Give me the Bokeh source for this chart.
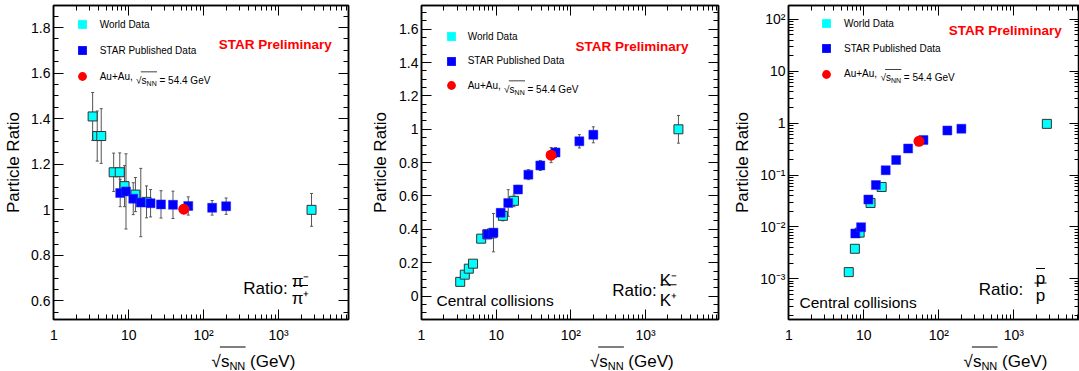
import math
from bokeh.plotting import figure
from bokeh.layouts import row, column
from bokeh.models import (ColumnDataSource, Whisker, TeeHead, Legend, LegendItem, Label,
                          LinearAxis, LogAxis, SingleIntervalTicker, FixedTicker,
                          CustomJSTickFormatter, BoxAnnotation, Range1d)
from bokeh.embed import file_html
from bokeh.resources import INLINE

# ---------------- data ----------------
# Panel 1 : pi-/pi+
pi_world_x = [3.3, 3.8, 4.3, 6.3, 7.6, 8.8, 12.3, 17.3, 2760]
pi_world_y = [1.41, 1.324, 1.324, 1.165, 1.165, 1.104, 1.067, 1.035, 1.0]
pi_world_err = [0.105, 0.11, 0.12, 0.084, 0.085, 0.09, 0.075, 0.07, 0.072]
pi_star_x = [7.7, 9.2, 11.5, 14.5, 19.6, 27, 39, 62.4, 130, 200]
pi_star_y = [1.074, 1.081, 1.049, 1.032, 1.029, 1.024, 1.022, 1.017, 1.009, 1.016]
pi_star_err = [0.06, 0.165, 0.07, 0.15, 0.06, 0.06, 0.06, 0.04, 0.032, 0.036]
pi_new_x = [54.4]
pi_new_y = [1.003]
pi_new_err = [0.01]

# Panel 2 : K-/K+
k_world_x = [3.3, 3.8, 4.3, 4.9, 6.3, 7.6, 8.8, 12.3, 17.3, 2760]
k_world_y = [0.085, 0.128, 0.164, 0.194, 0.344, 0.37, 0.376, 0.481, 0.571, 1.0]
k_world_err = [0.01, 0.01, 0.01, 0.012, 0.015, 0.02, 0.02, 0.03, 0.035, 0.083]
k_star_x = [7.7, 9.2, 11.5, 14.5, 19.6, 27, 39, 62.4, 130, 200]
k_star_y = [0.37, 0.38, 0.499, 0.558, 0.639, 0.728, 0.783, 0.861, 0.928, 0.967]
k_star_err = [0.02, 0.115, 0.02, 0.08, 0.025, 0.03, 0.03, 0.03, 0.04, 0.048]
k_new_x = [54.4]
k_new_y = [0.845]
k_new_err = [0.045]

# Panel 3 : pbar/p
p_world_x = [6.3, 7.6, 8.8, 12.3, 17.3, 2760]
p_world_y = [1.35e-3, 3.8e-3, 7.8e-3, 0.029, 0.059, 0.97]
p_world_err = [0.15e-3, 0.4e-3, 1.5e-3, 3e-3, 5e-3, 0.07]
p_star_x = [7.7, 9.2, 11.5, 14.5, 19.6, 27, 39, 62.4, 130, 200]
p_star_y = [7.5e-3, 9.9e-3, 0.0338, 0.0643, 0.124, 0.195, 0.325, 0.475, 0.723, 0.78]
p_star_err = [0.5e-3, 1.5e-3, 2e-3, 4e-3, 6e-3, 8e-3, 0.012, 0.025, 0.06, 0.07]
p_new_x = [54.4]
p_new_y = [0.447]
p_new_err = [0.02]

legend_labels = ["World Data", "STAR Published Data", "Au+Au,"]
x_major = [1, 10, 100, 1000]
y3_major = [1e-3, 1e-2, 1e-1, 1, 10, 100]

# ---------------- style / layout ----------------
FONT = "Liberation Sans"
CYAN, BLUE, RED, ERR = "#00FFFF", "#0000FF", "#FF0000", "#555555"
H_MAIN = 345
H_STRIP = 26
B_TOP = 5
B_BOT = 23
FB = H_MAIN - B_BOT          # page y of the frame bottom (322)
SB = H_MAIN + H_STRIP        # page y of the strip bottom (371)

x_minor = [m * 10 ** e for e in range(0, 4) for m in range(2, 10)]
y3_minor = [m * 10.0 ** e for e in range(-4, 3) for m in range(2, 10)]

LOG_FMT = CustomJSTickFormatter(code="""
const e = Math.round(Math.log10(tick));
if (e === 0) return "1";
if (e === 1) return "10";
const sup = {"-": "\\u207B", "0": "\\u2070", "1": "\\u00B9", "2": "\\u00B2", "3": "\\u00B3",
             "4": "\\u2074", "5": "\\u2075", "6": "\\u2076", "7": "\\u2077", "8": "\\u2078", "9": "\\u2079"};
return "10" + String(e).split("").map(c => sup[c]).join("");
""")
LIN_FMT = CustomJSTickFormatter(code="return String(Math.round(tick*100)/100);")
EMPTY_FMT = CustomJSTickFormatter(code="return '';")


def style_axis(ax, ticker, fmt, labels, standoff):
    ax.ticker = ticker
    ax.formatter = fmt
    ax.axis_line_color = "black"
    ax.axis_line_width = 1.5
    ax.major_tick_in = 10
    ax.major_tick_out = 0
    ax.minor_tick_in = 5
    ax.minor_tick_out = 0
    ax.major_tick_line_color = "black"
    ax.minor_tick_line_color = "black"
    ax.major_label_text_font = FONT
    ax.major_label_text_color = "black"
    ax.major_label_text_font_size = "14px" if labels else "1px"
    ax.major_label_standoff = standoff


def build(width, bl, br, x_start, x_end, y_start, y_end, y_log, y_ticker, y_fmt, ylab_standoff):
    p = figure(width=width, height=H_MAIN, x_axis_type="log",
               y_axis_type=("log" if y_log else "linear"),
               x_range=Range1d(x_start, x_end), y_range=Range1d(y_start, y_end),
               output_backend="svg", toolbar_location=None,
               min_border_left=bl, min_border_right=br,
               min_border_top=B_TOP, min_border_bottom=B_BOT,
               outline_line_color="black", outline_line_width=1.5,
               background_fill_color="white", border_fill_color="white")
    p.grid.visible = False
    xt = FixedTicker(ticks=x_major, minor_ticks=x_minor)
    style_axis(p.xaxis[0], xt, LOG_FMT, True, 7)
    p.xaxis[0].axis_label = None
    style_axis(p.yaxis[0], y_ticker, y_fmt, True, 3)
    ya = p.yaxis[0]
    ya.axis_label = "Particle Ratio"
    ya.axis_label_text_font = FONT
    ya.axis_label_text_font_size = "17px"
    ya.axis_label_text_font_style = "normal"
    ya.axis_label_text_color = "black"
    ya.axis_label_standoff = ylab_standoff
    top = LogAxis()
    style_axis(top, xt, EMPTY_FMT, False, 0)
    p.add_layout(top, "above")
    right = LogAxis() if y_log else LinearAxis()
    style_axis(right, y_ticker, EMPTY_FMT, False, 0)
    p.add_layout(right, "right")
    return p


def strip(width):
    s = figure(width=width, height=H_STRIP, x_range=Range1d(0, 1), y_range=Range1d(0, 1),
               output_backend="svg", toolbar_location=None,
               x_axis_location=None, y_axis_location=None, min_border=0,
               outline_line_color=None, background_fill_color="white",
               border_fill_color="white")
    s.grid.visible = False
    return s


def series(p, xs, ys, errs, marker, size, fill, line, lw):
    """Error bars + markers; returns an outline-free twin (hidden underneath) for the legend."""
    lo = [y - e for y, e in zip(ys, errs)]
    hi = [y + e for y, e in zip(ys, errs)]
    src = ColumnDataSource(dict(x=xs, y=ys, lo=lo, hi=hi))
    wh = Whisker(source=src, base="x", lower="lo", upper="hi", dimension="height",
                 line_color=ERR, line_width=1, level="underlay",
                 lower_head=TeeHead(size=3, line_color=ERR, line_width=1),
                 upper_head=TeeHead(size=3, line_color=ERR, line_width=1))
    p.add_layout(wh)
    twin = p.scatter("x", "y", source=src, marker=marker, size=size - 1,
                     fill_color=fill, line_color=None, level="underlay")
    p.scatter("x", "y", source=src, marker=marker, size=size,
              fill_color=fill, line_color=line, line_width=lw)
    return twin


def txt(p, ox, oy, text, ax, ay, size, align="left", baseline="alphabetic",
        color="black", style="normal"):
    """ox: page x of the frame left; oy: page y of the frame bottom."""
    p.add_layout(Label(x=ax - ox, y=oy - ay, x_units="screen", y_units="screen", text=text,
                       text_font=FONT, text_font_size=f"{size}px", text_align=align,
                       text_baseline=baseline, text_color=color, text_font_style=style))


def hbar(p, ox, oy, x0, x1, y, th=1.0):
    p.add_layout(BoxAnnotation(left=x0 - ox, right=x1 - ox, bottom=oy - y - th / 2,
                               top=oy - y + th / 2, left_units="screen", right_units="screen",
                               bottom_units="screen", top_units="screen",
                               fill_color="black", fill_alpha=1.0, line_color=None,
                               level="overlay"))


def decorate(p, FL, rends, vx, rows, standoff, prelim):
    for label, rend, cy in zip(legend_labels, rends, rows):
        lg = Legend(items=[LegendItem(label=label, renderers=[rend])],
                    location=(vx - FL, FB - (cy + 11)),
                    glyph_width=22, glyph_height=22, label_height=22,
                    label_standoff=standoff, spacing=0, padding=0, margin=0,
                    border_line_color=None, background_fill_alpha=0,
                    label_text_font=FONT, label_text_font_size="10px",
                    label_text_color="black")
        p.add_layout(lg)
    # rest of the third legend label: sqrt(s_NN) = 54.4 GeV
    tx = vx + 22 + standoff
    base = rows[2] + 3.5
    txt(p, FL, FB, "\u221A", tx + 35.9, base, 10)
    txt(p, FL, FB, "s", tx + 41.4, base, 10)
    txt(p, FL, FB, "NN", tx + 46.4, base + 2.8, 7)
    txt(p, FL, FB, "= 54.4 GeV", tx + 59.3, base, 10)
    hbar(p, FL, FB, tx + 40.6, tx + 56.8, base - 8.4, 0.8)
    txt(p, FL, FB, "STAR Preliminary", prelim[0], prelim[1], 13.5, baseline="middle",
        color=RED, style="bold")


def xlabel(s, X0, cx):
    s0 = cx - 41.9
    xb = 361
    txt(s, X0, SB, "\u221A", s0, xb, 17)
    txt(s, X0, SB, "s", s0 + 9.3, xb, 17)
    txt(s, X0, SB, "NN", s0 + 17.8, xb + 4.8, 11)
    txt(s, X0, SB, "(GeV)", s0 + 38.4, xb, 17)
    hbar(s, X0, SB, s0 + 8.3, s0 + 34.0, 346.4, 1.0)


# ---------------- panel 1 ----------------
FL1 = 53
p1 = build(360, 53, 12, 10 ** ((53 - 53.3) / 74.9), 10 ** ((348 - 53.3) / 74.9),
           0.6 - (FB - 303.3) / 230.0, 1.8 + (27.3 - B_TOP) / 230.0, False,
           SingleIntervalTicker(interval=0.2, num_minor_ticks=4), LIN_FMT, 5)
r1 = (series(p1, pi_world_x, pi_world_y, pi_world_err, "square", 9, CYAN, "#333333", 1),
      series(p1, pi_star_x, pi_star_y, pi_star_err, "square", 9, BLUE, "#2a2aff", 0.5),
      series(p1, pi_new_x, pi_new_y, pi_new_err, "circle", 11, RED, None, 0))
decorate(p1, FL1, r1, 70.7, (27.3, 53.3, 79.3), 7, (218.3, 46.7))
txt(p1, FL1, FB, "Ratio:", 242.7, 291.1, 17)
txt(p1, FL1, FB, "\u03C0\u207B", 300, 284, 17, align="center")
hbar(p1, FL1, FB, 292.5, 307.5, 288, 1.0)
txt(p1, FL1, FB, "\u03C0\u207A", 300, 300.5, 17, align="center")
s1 = strip(360)
xlabel(s1, 0, 200)

# ---------------- panel 2 ----------------
FL2 = 421
p2 = build(360, 61, 2, 1, 10 ** (297 / 74.67),
           -(FB - 298.3) / 168.3, 1.6 + (29 - B_TOP) / 168.3, False,
           SingleIntervalTicker(interval=0.2, num_minor_ticks=4), LIN_FMT, 6)
r2 = (series(p2, k_world_x, k_world_y, k_world_err, "square", 9, CYAN, "#333333", 1),
      series(p2, k_star_x, k_star_y, k_star_err, "square", 9, BLUE, "#2a2aff", 0.5),
      series(p2, k_new_x, k_new_y, k_new_err, "circle", 11, RED, None, 0))
decorate(p2, FL2, r2, 439.7, (39, 63.7, 88.3), 6, (575, 49))
txt(p2, FL2, FB, "Ratio:", 611.7, 292.8, 17)
txt(p2, FL2, FB, "K\u207B", 668, 282.7, 17, align="center")
hbar(p2, FL2, FB, 660, 676, 287.3, 1.0)
txt(p2, FL2, FB, "K\u207A", 668, 303.3, 17, align="center")
txt(p2, FL2, FB, "Central collisions", 436, 303.3, 15.5, baseline="middle")
s2 = strip(360)
xlabel(s2, 360, 570.3)

# ---------------- panel 3 ----------------
FL3 = 788
p3 = build(359, 68, 0, 10 ** ((788 - 788.3) / 75.0), 10 ** ((1079 - 788.3) / 75.0),
           10 ** (-3 - (FB - 281) / 52.4), 10 ** (2 + (19 - B_TOP) / 52.4), True,
           FixedTicker(ticks=y3_major, minor_ticks=y3_minor), LOG_FMT, 5)
r3 = (series(p3, p_world_x, p_world_y, p_world_err, "square", 9, CYAN, "#333333", 1),
      series(p3, p_star_x, p_star_y, p_star_err, "square", 9, BLUE, "#2a2aff", 0.5),
      series(p3, p_new_x, p_new_y, p_new_err, "circle", 11, RED, None, 0))
decorate(p3, FL3, r3, 815, (26, 51, 76.7), 7, (948.3, 33.3))
txt(p3, FL3, FB, "Ratio:", 978.3, 292.1, 17)
txt(p3, FL3, FB, "p", 1040, 280.5, 17, align="center")
hbar(p3, FL3, FB, 1035.5, 1044.5, 271.0, 1.2)
hbar(p3, FL3, FB, 1034, 1046, 285.5, 1.0)
txt(p3, FL3, FB, "p", 1040, 297.5, 17, align="center")
txt(p3, FL3, FB, "Central collisions", 799, 305, 15.5, baseline="middle")
s3 = strip(359)
xlabel(s3, 720, 937)

layout = row(column(p1, s1), column(p2, s2), column(p3, s3))
open("out.html", "w").write(file_html(layout, INLINE))
